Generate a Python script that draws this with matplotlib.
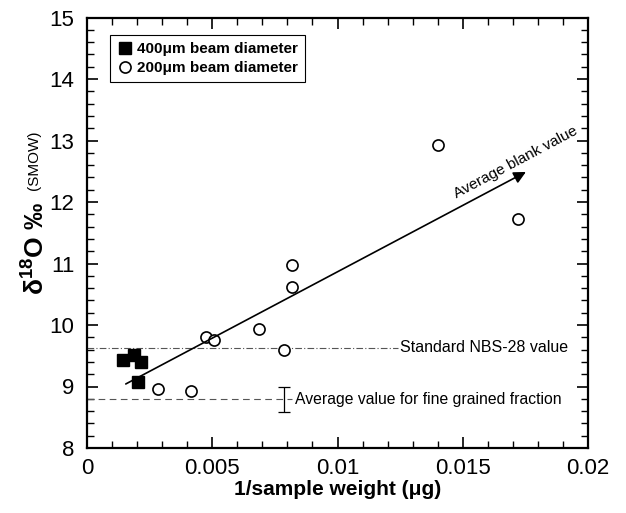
import matplotlib
matplotlib.use('Agg')
import matplotlib.pyplot as plt
from matplotlib.ticker import MultipleLocator

plt.rcParams['font.family'] = ['Liberation Sans', 'DejaVu Sans']
plt.rcParams['mathtext.fontset'] = 'custom'
plt.rcParams['mathtext.rm'] = 'Liberation Sans:bold'

# 400um beam diameter (filled squares)
sq_x = [0.00145, 0.00189, 0.00216, 0.00205]
sq_y = [9.43, 9.51, 9.40, 9.08]

# 200um beam diameter (open circles)
circ_x = [0.00285, 0.00414, 0.00475, 0.00507, 0.00688, 0.00788, 0.00817, 0.0082, 0.01402, 0.01722]
circ_y = [8.96, 8.93, 9.80, 9.76, 9.93, 9.59, 10.61, 10.98, 12.93, 11.73]

# trend arrow (average blank value)
trend_x = [0.00145, 0.01762]
trend_y = [9.02, 12.51]

nbs28 = 9.63
fine_avg = 8.79
fine_err = 0.2
fine_err_x = 0.00787

fig = plt.figure(figsize=(6.26, 5.13), dpi=100)
ax = fig.add_axes([87/626, 65/513, 501/626, 430.5/513])

# reference lines
ax.plot([0, 0.0124], [nbs28, nbs28], color='#555555', lw=0.8, ls=(0, (6, 2, 1, 2)))
ax.plot([0, 0.0082], [fine_avg, fine_avg], color='#555555', lw=0.8, ls=(0, (6, 4)))
ax.errorbar([fine_err_x], [fine_avg], yerr=[fine_err], fmt='none', ecolor='black',
            elinewidth=0.9, capsize=4, capthick=0.9)
ax.text(0.0125, nbs28, 'Standard NBS-28 value', fontsize=11.5, va='center', ha='left')
ax.text(0.0083, fine_avg, 'Average value for fine grained fraction', fontsize=11.3, va='center', ha='left')

# trend arrow
ax.annotate('', xy=(trend_x[1], trend_y[1]), xytext=(trend_x[0], trend_y[0]),
            arrowprops=dict(arrowstyle='-|>', color='black', lw=1.2, mutation_scale=18))
ax.text(0.01713, 12.65, 'Average blank value', fontsize=11, rotation=28,
        ha='center', va='center', rotation_mode='anchor')

# data
ax.plot(sq_x, sq_y, 's', color='black', ms=9, label='400\u03bcm beam diameter')
ax.plot(circ_x, circ_y, 'o', mfc='white', mec='black', mew=1.2, ms=8, label='200\u03bcm beam diameter')

leg = ax.legend(loc='upper left', bbox_to_anchor=(0.046, 0.959), borderaxespad=0,
                fancybox=False, framealpha=1, edgecolor='black',
                prop={'weight': 'bold', 'size': 11}, handletextpad=0.3,
                borderpad=0.45, handlelength=1.0, labelspacing=0.35)
leg.get_frame().set_linewidth(0.8)

ax.set_xlim(0, 0.02)
ax.set_ylim(8, 15)
ax.xaxis.set_major_locator(MultipleLocator(0.005))
ax.xaxis.set_minor_locator(MultipleLocator(0.001))
ax.yaxis.set_major_locator(MultipleLocator(1))
ax.yaxis.set_minor_locator(MultipleLocator(0.2))
ax.set_xticks([0, 0.005, 0.01, 0.015, 0.02])
ax.set_xticklabels(['0', '0.005', '0.01', '0.015', '0.02'])
ax.tick_params(which='both', direction='in', top=True, right=True, labelsize=16)
ax.tick_params(which='major', length=8, width=1.2)
ax.tick_params(which='minor', length=5, width=1)
ax.tick_params(axis='y', pad=9)
ax.tick_params(axis='x', pad=7)
for s in ax.spines.values():
    s.set_linewidth(1.6)

ax.set_xlabel('1/sample weight (\u03bcg)', fontsize=15, fontweight='bold', labelpad=1)

# y label: big part plus smaller (SMOW)
ax.text(-0.104, 0.4646, '\u03b4$^{18}$O \u2030', transform=ax.transAxes, rotation=90,
        fontsize=19, fontweight='bold', ha='center', va='center')
ax.text(-0.106, 0.669, '(SMOW)', transform=ax.transAxes, rotation=90,
        fontsize=11, ha='center', va='center')

fig.savefig('out.png', dpi=100)
